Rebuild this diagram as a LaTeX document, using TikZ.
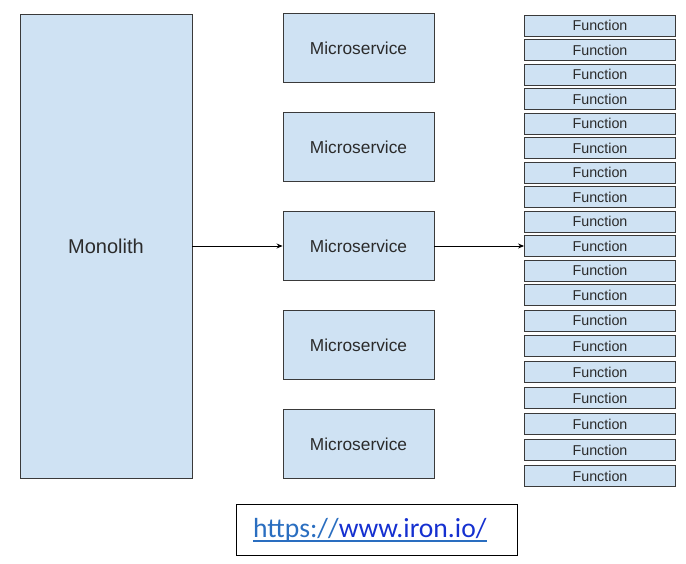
\documentclass[tikz,border=0pt]{standalone}
\usepackage{fontspec}
\setmainfont{Liberation Sans}
\newfontfamily\urlfont{Carlito}
\usetikzlibrary{arrows.meta}
\definecolor{boxfill}{HTML}{CFE2F3}
\definecolor{boxline}{HTML}{3A3A3A}
\definecolor{labeltext}{HTML}{2B2B2B}
\definecolor{linkA}{HTML}{2A6EC0}
\definecolor{linkB}{HTML}{1530D0}
\tikzset{
  block/.style={draw=boxline, line width=0.9pt, fill=boxfill, inner sep=0pt,
    text=labeltext},
  mono/.style={block, minimum width=172pt, minimum height=464pt, font=\fontsize{20}{24}\selectfont},
  micro/.style={block, minimum width=151pt, minimum height=69pt, font=\fontsize{17.3}{20}\selectfont},
  func/.style={block, minimum width=151pt, minimum height=21pt, font=\fontsize{14.3}{16}\selectfont},
  flow/.style={line width=0.8pt, -{Stealth[length=6pt,width=5pt]}}
}
\begin{document}
\begin{tikzpicture}[x=1pt, y=-1pt]
  \useasboundingbox (0,0) rectangle (686,564);

  % monolith
  \node[mono] (mono) at (106,246) {Monolith};

  % microservices
  \foreach \i/\yy in {1/48, 2/147.3, 3/246, 4/345, 5/444}
    \node[micro] (ms\i) at (358.5,\yy) {Microservice};

  % functions
  \foreach \i/\yy in {1/25.5, 2/50, 3/74.5, 4/99, 5/123.5, 6/148, 7/172.5,
      8/197, 9/221.5, 10/246, 11/270.5, 12/295, 13/320.5, 14/346, 15/372,
      16/398, 17/424, 18/450, 19/476}
    \node[func] (f\i) at (600,\yy) {\raisebox{-1pt}{Function}};

  % connectors
  \draw[flow] (mono.east) -- (ms3.west);
  \draw[flow] (ms3.east) -- (f10.west);

  % link box
  \node[draw=black, line width=1pt, minimum width=281pt, minimum height=51pt,
        inner sep=0pt] (linkbox) at (376.5,529.5) {};
  \node[anchor=base west, inner sep=0pt, font=\urlfont\fontsize{27.6}{30}\selectfont]
    (link) at (253,537) {\textcolor{linkA}{https://}\textcolor{linkB}{www.iron.io/}};
  \coordinate (ulA) at (253,541);
  \coordinate (ulB) at (link.east |- ulA);
  \draw[linkA, line width=1.2pt] (ulA) -- (ulB);
\end{tikzpicture}
\end{document}
